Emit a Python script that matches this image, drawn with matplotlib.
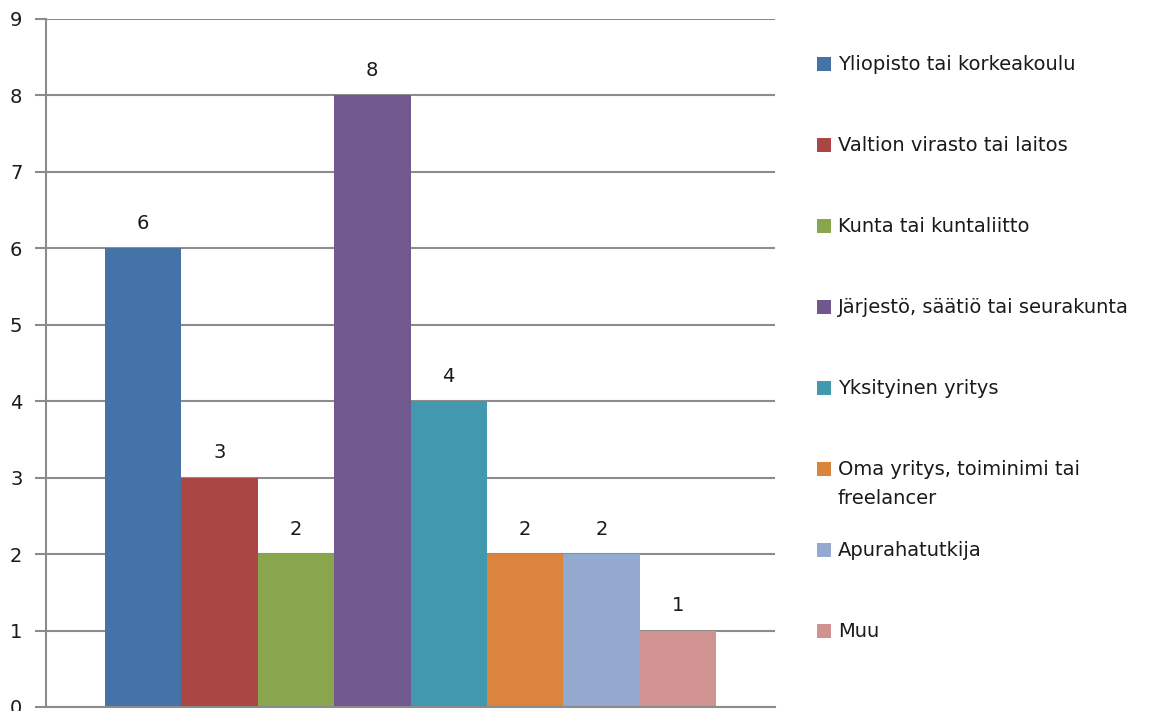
import matplotlib.pyplot as plt
from matplotlib.patches import Rectangle

# Vastaajien työnantajat
labels = ['Yliopisto tai korkeakoulu', 'Valtion virasto tai laitos', 'Kunta tai kuntaliitto',
          'Järjestö, säätiö tai seurakunta', 'Yksityinen yritys',
          'Oma yritys, toiminimi tai\nfreelancer', 'Apurahatutkija', 'Muu']
values = [6, 3, 2, 8, 4, 2, 2, 1]
colors = ['#4572A7', '#AA4643', '#89A54E', '#71588F', '#4198AF', '#DB843D', '#93A9CF', '#D19392']
yticks = list(range(0, 10))

W, H = 1165, 711
fig = plt.figure(figsize=(W / 100, H / 100), dpi=100)
ax = fig.add_axes([46 / W, 1 - 707 / H, (775 - 46) / W, (707 - 19) / H])

grid_c = '#8c8c8c'
text_c = '#1a1a1a'
fs = 14

x = list(range(len(values)))
ax.bar(x, values, width=1.0, color=colors, zorder=2)
for xi, v in zip(x, values):
    ax.text(xi, v + 0.2, str(v), ha='center', va='bottom', fontsize=fs, color=text_c)

ax.set_xlim(-1.265, len(values) - 1 + 1.265)
ax.set_ylim(0, 9)
ax.set_yticks(yticks)
ax.set_yticklabels([str(t) for t in yticks], fontsize=fs, color=text_c)
ax.set_xticks([])
ax.yaxis.grid(True, color=grid_c, linewidth=1.5, zorder=0)
ax.set_axisbelow(True)
ax.tick_params(axis='y', length=8, width=1.5, color=grid_c, pad=9)
for s in ['top', 'right']:
    ax.spines[s].set_visible(False)
for s in ['left', 'bottom']:
    ax.spines[s].set_color(grid_c)
    ax.spines[s].set_linewidth(1.5)

# selite käsin
for i, (lab, c) in enumerate(zip(labels, colors)):
    yc = 64 + 81 * i
    fig.patches.append(Rectangle((817 / W, 1 - (yc + 7) / H), 14 / W, 14 / H,
                                 transform=fig.transFigure, facecolor=c, edgecolor='none'))
    fig.text(838 / W, 1 - (yc - 9) / H, lab, ha='left', va='top', fontsize=fs,
             color=text_c, linespacing=1.65)

fig.savefig('out.png', dpi=100)
